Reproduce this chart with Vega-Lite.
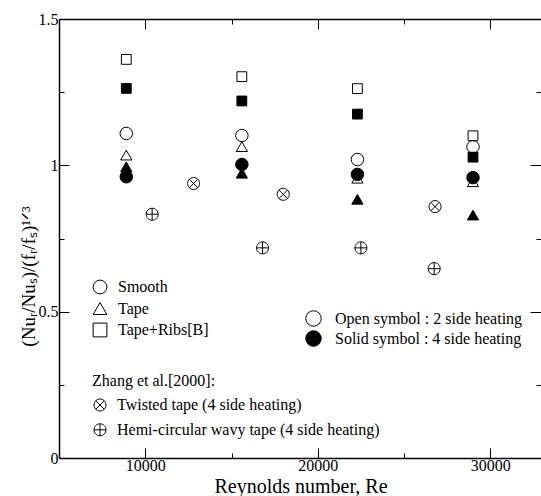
{
  "$schema": "https://vega.github.io/schema/vega-lite/v6.json",
  "width": 483,
  "height": 439,
  "autosize": "none",
  "padding": {"left": 59, "top": 19, "right": 0, "bottom": 38},
  "background": "white",
  "config": {
    "view": {"stroke": null},
    "font": "Liberation Serif",
    "axis": {
      "grid": false,
      "domainColor": "black",
      "domainWidth": 1.5,
      "tickColor": "black",
      "tickWidth": 1,
      "labelFont": "Liberation Serif",
      "labelFontSize": 16,
      "labelColor": "black",
      "labelFlush": false,
      "labelOverlap": false,
      "labelBound": false,
      "titleFont": "Liberation Serif",
      "titleFontSize": 20,
      "titleFontWeight": "normal",
      "titleColor": "black"
    },
    "legend": {
      "labelFont": "Liberation Serif",
      "labelFontSize": 16,
      "labelColor": "black",
      "titleFont": "Liberation Serif",
      "titleFontSize": 16,
      "titleFontWeight": "normal",
      "titleColor": "black",
      "padding": 0,
      "labelLimit": 400
    }
  },
  "datasets": {
    "main": [
      {"Re": 8900, "ratio": 1.035, "config": "Tape", "heating": "Open symbol : 2 side heating"},
      {"Re": 8900, "ratio": 0.995, "config": "Tape", "heating": "Solid symbol : 4 side heating"},
      {"Re": 15600, "ratio": 1.064, "config": "Tape", "heating": "Open symbol : 2 side heating"},
      {"Re": 15600, "ratio": 0.973, "config": "Tape", "heating": "Solid symbol : 4 side heating"},
      {"Re": 22300, "ratio": 0.956, "config": "Tape", "heating": "Open symbol : 2 side heating"},
      {"Re": 22300, "ratio": 0.884, "config": "Tape", "heating": "Solid symbol : 4 side heating"},
      {"Re": 29000, "ratio": 0.944, "config": "Tape", "heating": "Open symbol : 2 side heating"},
      {"Re": 29000, "ratio": 0.830, "config": "Tape", "heating": "Solid symbol : 4 side heating"},
      {"Re": 8900, "ratio": 1.109, "config": "Smooth", "heating": "Open symbol : 2 side heating"},
      {"Re": 8900, "ratio": 0.961, "config": "Smooth", "heating": "Solid symbol : 4 side heating"},
      {"Re": 15600, "ratio": 1.102, "config": "Smooth", "heating": "Open symbol : 2 side heating"},
      {"Re": 15600, "ratio": 1.003, "config": "Smooth", "heating": "Solid symbol : 4 side heating"},
      {"Re": 22300, "ratio": 1.020, "config": "Smooth", "heating": "Open symbol : 2 side heating"},
      {"Re": 22300, "ratio": 0.969, "config": "Smooth", "heating": "Solid symbol : 4 side heating"},
      {"Re": 29000, "ratio": 1.063, "config": "Smooth", "heating": "Open symbol : 2 side heating"},
      {"Re": 29000, "ratio": 0.958, "config": "Smooth", "heating": "Solid symbol : 4 side heating"},
      {"Re": 8900, "ratio": 1.362, "config": "Tape+Ribs[B]", "heating": "Open symbol : 2 side heating"},
      {"Re": 8900, "ratio": 1.263, "config": "Tape+Ribs[B]", "heating": "Solid symbol : 4 side heating"},
      {"Re": 15600, "ratio": 1.303, "config": "Tape+Ribs[B]", "heating": "Open symbol : 2 side heating"},
      {"Re": 15600, "ratio": 1.220, "config": "Tape+Ribs[B]", "heating": "Solid symbol : 4 side heating"},
      {"Re": 22300, "ratio": 1.262, "config": "Tape+Ribs[B]", "heating": "Open symbol : 2 side heating"},
      {"Re": 22300, "ratio": 1.175, "config": "Tape+Ribs[B]", "heating": "Solid symbol : 4 side heating"},
      {"Re": 29000, "ratio": 1.101, "config": "Tape+Ribs[B]", "heating": "Open symbol : 2 side heating"},
      {"Re": 29000, "ratio": 1.028, "config": "Tape+Ribs[B]", "heating": "Solid symbol : 4 side heating"}
    ],
    "zhang": [
      {"Re": 12800, "ratio": 0.938, "study": "Twisted tape (4 side heating)"},
      {"Re": 18000, "ratio": 0.901, "study": "Twisted tape (4 side heating)"},
      {"Re": 26800, "ratio": 0.859, "study": "Twisted tape (4 side heating)"},
      {"Re": 10400, "ratio": 0.833, "study": "Hemi-circular wavy tape (4 side heating)"},
      {"Re": 16800, "ratio": 0.718, "study": "Hemi-circular wavy tape (4 side heating)"},
      {"Re": 22500, "ratio": 0.718, "study": "Hemi-circular wavy tape (4 side heating)"},
      {"Re": 26750, "ratio": 0.647, "study": "Hemi-circular wavy tape (4 side heating)"}
    ]
  },
  "layer": [
    {
      "data": {"name": "main"},
      "mark": {"type": "point", "filled": true, "stroke": "black", "strokeWidth": 1, "opacity": 1},
      "encoding": {
        "x": {
          "field": "Re", "type": "quantitative",
          "scale": {"domain": [5000, 33000], "nice": false, "zero": false},
          "axis": {
            "orient": "bottom",
            "values": [10000, 15000, 20000, 25000, 30000],
            "format": "d",
            "labelExpr": "datum.value % 10000 === 0 ? datum.label : ''",
            "tickSize": {"condition": {"test": "datum.value % 10000 === 0", "value": -10}, "value": -5},
            "labelPadding": 9,
            "title": "Reynolds number, Re",
            "titlePadding": -2
          }
        },
        "y": {
          "field": "ratio", "type": "quantitative",
          "scale": {"domain": [0, 1.5], "nice": false},
          "axis": {
            "orient": "left",
            "values": [0, 0.25, 0.5, 0.75, 1, 1.25, 1.5],
            "format": "~g",
            "labelExpr": "datum.value % 0.5 === 0 ? datum.label : ''",
            "tickSize": {"condition": {"test": "datum.value % 0.5 === 0", "value": -10}, "value": -5},
            "labelPadding": 11,
            "title": "(Nuᵣ/Nuₛ)/(fᵣ/fₛ)¹ᐟ³",
            "titleFontSize": 19,
            "titlePadding": 0,
            "titleY": 257
          }
        },
        "shape": {
          "field": "config", "type": "nominal",
          "scale": {"domain": ["Smooth", "Tape", "Tape+Ribs[B]"], "range": ["circle", "triangle-up", "square"]},
          "legend": {
            "title": null, "orient": "none", "legendX": 33, "legendY": 260,
            "symbolSize": 190, "symbolFillColor": "white", "symbolStrokeColor": "black", "symbolStrokeWidth": 1,
            "labelOffset": 10, "rowPadding": 4.5,
            "encode": {"symbols": {"update": {"fill": {"value": "white"}, "stroke": {"value": "black"}, "opacity": {"value": 1}}}}
          }
        },
        "size": {
          "field": "config", "type": "nominal",
          "scale": {"type": "point", "padding": 0, "domain": ["Smooth", "Tape", "Tape+Ribs[B]"], "range": [156, 96]},
          "legend": null
        },
        "fill": {
          "field": "heating", "type": "nominal",
          "scale": {"domain": ["Open symbol : 2 side heating", "Solid symbol : 4 side heating"], "range": ["white", "black"]},
          "legend": {
            "title": null, "orient": "none", "legendX": 246, "legendY": 291,
            "symbolType": "circle", "symbolSize": 240, "symbolStrokeColor": "black", "symbolStrokeWidth": 1,
            "labelOffset": 13, "rowPadding": -1,
            "encode": {"symbols": {"update": {"stroke": {"value": "black"}, "opacity": {"value": 1}}}}
          }
        }
      }
    },
    {
      "data": {"name": "zhang"},
      "mark": {"type": "point", "filled": false, "color": "black", "strokeWidth": 1, "size": 144, "opacity": 1},
      "encoding": {
        "x": {
          "field": "Re", "type": "quantitative",
          "scale": {"domain": [5000, 33000], "nice": false, "zero": false},
          "axis": {
            "orient": "top",
            "values": [10000, 15000, 20000, 25000, 30000],
            "labels": false,
            "tickSize": {"condition": {"test": "datum.value % 10000 === 0", "value": -10}, "value": -5},
            "title": null
          }
        },
        "y": {
          "field": "ratio", "type": "quantitative",
          "scale": {"domain": [0, 1.5], "nice": false},
          "axis": {
            "orient": "right",
            "values": [0, 0.25, 0.5, 0.75, 1, 1.25, 1.5],
            "labels": false,
            "domain": false,
            "tickSize": {"condition": {"test": "datum.value % 0.5 === 0", "value": -12}, "value": -6},
            "title": null
          }
        },
        "shape": {
          "field": "study", "type": "nominal",
          "scale": {
            "domain": ["Twisted tape (4 side heating)", "Hemi-circular wavy tape (4 side heating)"],
            "range": [
              "M1,0A1,1,0,1,1,-1,0A1,1,0,1,1,1,0M-0.7071,-0.7071L0.7071,0.7071M-0.7071,0.7071L0.7071,-0.7071",
              "M1,0A1,1,0,1,1,-1,0A1,1,0,1,1,1,0M-1,0L1,0M0,-1L0,1"
            ]
          },
          "legend": {
            "title": "Zhang et al.[2000]:", "orient": "none", "legendX": 33, "legendY": 354,
            "symbolSize": 144, "symbolStrokeColor": "black", "symbolStrokeWidth": 1, "symbolFillColor": "transparent",
            "labelOffset": 9, "rowPadding": 8.8, "titlePadding": 8,
            "encode": {"symbols": {"update": {"stroke": {"value": "black"}, "fill": {"value": "transparent"}, "opacity": {"value": 1}}}}
          }
        }
      }
    }
  ],
  "resolve": {
    "scale": {"shape": "independent"},
    "axis": {"x": "independent", "y": "independent"}
  }
}
